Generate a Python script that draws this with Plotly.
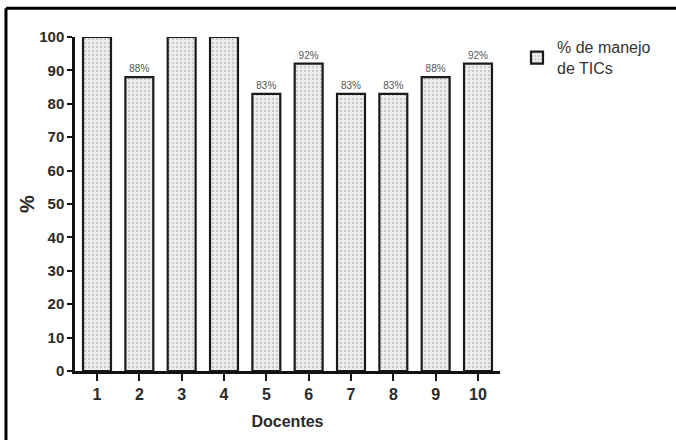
import plotly.graph_objects as go

docentes = [1, 2, 3, 4, 5, 6, 7, 8, 9, 10]
manejo = [100, 88, 100, 100, 83, 92, 83, 83, 88, 92]
etiquetas = ["", "88%", "", "", "83%", "92%", "83%", "83%", "88%", "92%"]
y_ticks = [0, 10, 20, 30, 40, 50, 60, 70, 80, 90, 100]

font_family = "Liberation Sans, Arial, sans-serif"

fig = go.Figure()
fig.add_trace(go.Bar(
    x=docentes, y=manejo,
    name="% de manejo<br>de TICs",
    width=0.66,
    text=etiquetas,
    textposition="outside",
    textfont=dict(size=10, color="#555555", family=font_family),
    cliponaxis=False,
    marker=dict(
        color="#ececec",
        line=dict(color="#1a1a1a", width=2.2),
        pattern=dict(shape=".", fgcolor="#a8a8a8", bgcolor="#eeeeee", size=4, solidity=0.3),
    ),
))

fig.update_layout(
    width=676, height=440,
    margin=dict(l=75, r=176, t=37, b=67),
    paper_bgcolor="white", plot_bgcolor="white",
    font=dict(family=font_family, color="#222222"),
    showlegend=True,
    legend=dict(x=1.04, y=1.02, xanchor="left", yanchor="top",
                font=dict(size=16, color="#333333"), bgcolor="rgba(0,0,0,0)",
                itemwidth=30),
    bargap=0.34,
)
fig.update_xaxes(
    range=[0.48, 10.52], tickvals=docentes,
    ticktext=["<b>%d</b>" % d for d in docentes],
    showline=True, linecolor="#111111", linewidth=2.5,
    ticks="outside", ticklen=7, tickwidth=2, tickcolor="#111111",
    tickfont=dict(size=16, color="#2a2a2a"),
    showgrid=False, zeroline=False,
    title=dict(text="<b>Docentes</b>", font=dict(size=16, color="#2a2a2a"), standoff=14),
)
fig.update_yaxes(
    range=[0, 100], tickvals=y_ticks,
    ticktext=["<b>%d</b>" % v for v in y_ticks],
    showline=True, linecolor="#111111", linewidth=2.5,
    ticks="outside", ticklen=5, tickwidth=2, tickcolor="#111111",
    tickfont=dict(size=15, color="#2a2a2a"),
    showgrid=False, zeroline=False,
    title=dict(text="<b>%</b>", font=dict(size=20, color="#2a2a2a"), standoff=0),
)

# image frame (top and left edges)
fig.add_shape(type="line", xref="paper", yref="paper", x0=-0.1624, x1=1.5, y0=1.0863, y1=1.0863,
              line=dict(color="black", width=3))
fig.add_shape(type="line", xref="paper", yref="paper", x0=-0.1624, x1=-0.1624, y0=-0.25, y1=1.0863,
              line=dict(color="black", width=3))

fig.write_html("out.html", config={"displayModeBar": False},
               post_script="document.body.style.margin='0';")
